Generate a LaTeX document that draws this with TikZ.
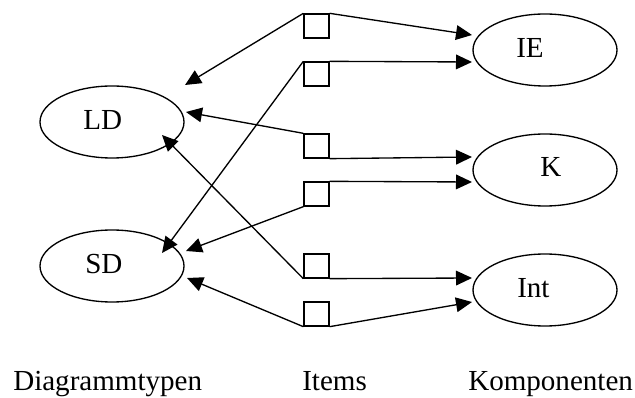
\documentclass[tikz,border=0pt]{standalone}
\usepackage{fontspec}
\setmainfont{Liberation Serif}
\usetikzlibrary{arrows.meta,shapes.geometric}
\begin{document}
\begin{tikzpicture}[x=0.75pt,y=-0.75pt,
  ell/.style={draw, line width=1pt, ellipse, inner sep=0pt, minimum width=108pt, minimum height=54pt},
  item/.style={draw, line width=1pt, rectangle, inner sep=0pt, minimum width=18.75pt, minimum height=18pt},
  txt/.style={inner sep=0pt, font=\fontsize{21.8}{26}\selectfont},
  conn/.style={line width=1pt, -{Triangle[length=12pt,width=11pt]}}]
\useasboundingbox (0,0) rectangle (635,398);
% ellipses
\node[ell] (LD) at (112,122) {};
\node[ell] (SD) at (112,266) {};
\node[ell] (IE) at (545,50) {};
\node[ell] (K) at (545,170) {};
\node[ell] (Int) at (545,290) {};
\node[txt, anchor=base west] (tLD) at (83,130) {LD};
\node[txt, anchor=base west] (tSD) at (85,274) {SD};
\node[txt, anchor=base west] (tIE) at (516,58) {IE};
\node[txt, anchor=base west] (tK) at (540,177) {K};
\node[txt, anchor=base west] (tInt) at (517,298) {Int};
% items
\node[item] (i1) at (316.5,26) {};
\node[item] (i2) at (316.5,74) {};
\node[item] (i3) at (316.5,146) {};
\node[item] (i4) at (316.5,194) {};
\node[item] (i5) at (316.5,266) {};
\node[item] (i6) at (316.5,314) {};
% arrow tips
\coordinate (LDa) at (185,85);
\coordinate (LDb) at (186,112);
\coordinate (LDc) at (162,135);
\coordinate (SDa) at (162,253);
\coordinate (SDb) at (186,251);
\coordinate (SDc) at (187,278);
\coordinate (IEa) at (472,35);
\coordinate (IEb) at (472,62);
\coordinate (Ka) at (472,157);
\coordinate (Kb) at (472,182);
\coordinate (Inta) at (472,278);
\coordinate (Intb) at (472,302);
% connectors
\draw[conn] (i1.north west) -- (LDa);
\draw[conn] (i1.north east) -- (IEa);
\draw[conn] (i2.north east) -- (IEb);
\draw[conn] (i2.north west) -- (SDa);
\draw[conn] (i3.north west) -- (LDb);
\draw[conn] (i3.south east) -- (Ka);
\draw[conn] (i4.north east) -- (Kb);
\draw[conn] (i4.south west) -- (SDb);
\draw[conn] (i5.south west) -- (LDc);
\draw[conn] (i5.south east) -- (Inta);
\draw[conn] (i6.south west) -- (SDc);
\draw[conn] (i6.south east) -- (Intb);
% bottom labels
\node[txt, anchor=base west] (lDia) at (13,391) {Diagrammtypen};
\node[txt, anchor=base west] (lItems) at (302,391) {Items};
\node[txt, anchor=base west] (lKomp) at (468,391) {Komponenten};
\end{tikzpicture}
\end{document}
